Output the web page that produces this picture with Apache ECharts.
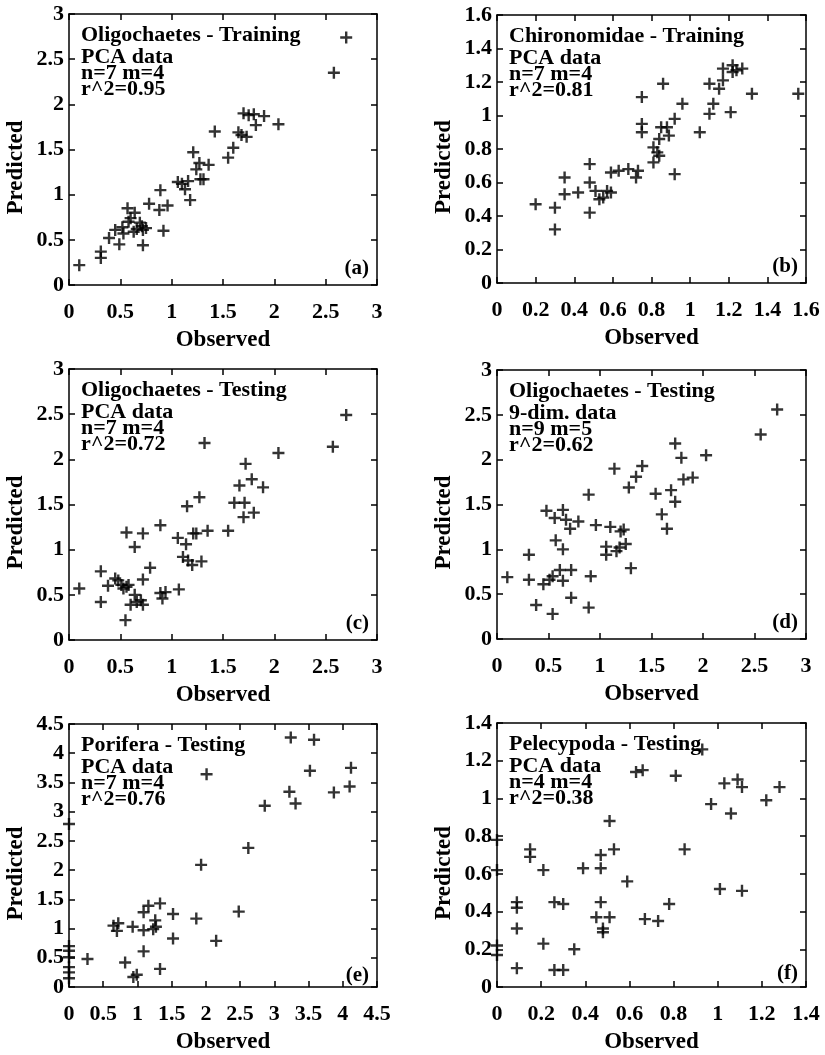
<!DOCTYPE html>
<html>
<head>
<meta charset="utf-8">
<script src="https://cdn.jsdelivr.net/npm/echarts@6/dist/echarts.min.js"></script>
<style>
  html, body { margin: 0; padding: 0; background: #fff; }
  #chart { width: 825px; height: 1055px; }
</style>
</head>
<body>
<div id="chart"></div>
<script>
// observed / predicted pairs
var oligoTrainPca = [[0.10,0.22],[0.31,0.37],[0.31,0.30],[0.39,0.52],[0.45,0.61],[0.49,0.45],[0.52,0.64],[0.53,0.57],[0.57,0.85],[0.58,0.70],[0.60,0.74],[0.64,0.80],[0.63,0.59],[0.66,0.62],[0.69,0.69],[0.71,0.65],[0.72,0.61],[0.72,0.44],[0.75,0.63],[0.78,0.90],[0.88,0.83],[0.89,1.05],[0.92,0.60],[0.96,0.88],[1.06,1.14],[1.10,1.12],[1.13,1.06],[1.16,1.15],[1.18,0.94],[1.21,1.47],[1.24,1.28],[1.27,1.35],[1.28,1.17],[1.31,1.17],[1.36,1.33],[1.42,1.70],[1.55,1.41],[1.60,1.52],[1.65,1.69],[1.68,1.66],[1.73,1.64],[1.70,1.90],[1.75,1.88],[1.80,1.89],[1.82,1.77],[1.90,1.87],[2.04,1.78],[2.58,2.35],[2.70,2.74]];
var chiroTrainPca = [[0.20,0.47],[0.30,0.45],[0.30,0.32],[0.35,0.63],[0.35,0.53],[0.42,0.54],[0.48,0.71],[0.48,0.60],[0.48,0.42],[0.51,0.55],[0.53,0.50],[0.55,0.51],[0.57,0.55],[0.59,0.54],[0.59,0.66],[0.63,0.67],[0.68,0.68],[0.72,0.63],[0.73,0.67],[0.75,1.11],[0.75,0.95],[0.75,0.90],[0.81,0.81],[0.81,0.72],[0.83,0.78],[0.84,0.86],[0.84,0.76],[0.86,1.19],[0.85,0.93],[0.88,0.93],[0.89,0.88],[0.92,0.98],[0.92,0.65],[0.96,1.07],[1.05,0.90],[1.10,1.01],[1.10,1.19],[1.12,1.07],[1.15,1.16],[1.17,1.21],[1.17,1.28],[1.21,1.02],[1.22,1.30],[1.22,1.26],[1.24,1.27],[1.27,1.28],[1.32,1.13],[1.56,1.13]];
var oligoTestPca = [[0.10,0.57],[0.31,0.76],[0.31,0.42],[0.38,0.60],[0.45,0.68],[0.48,0.66],[0.51,0.61],[0.53,0.57],[0.55,0.22],[0.56,1.19],[0.56,0.59],[0.58,0.61],[0.60,0.39],[0.64,1.03],[0.64,0.50],[0.66,0.42],[0.72,1.18],[0.72,0.67],[0.70,0.44],[0.72,0.39],[0.79,0.80],[0.89,1.27],[0.89,0.52],[0.91,0.46],[0.94,0.53],[1.07,0.56],[1.06,1.13],[1.11,0.92],[1.14,1.06],[1.15,1.48],[1.16,0.88],[1.20,0.83],[1.21,1.18],[1.24,1.18],[1.27,1.58],[1.29,0.87],[1.35,1.21],[1.32,2.18],[1.55,1.21],[1.61,1.52],[1.66,1.71],[1.70,1.36],[1.72,1.95],[1.71,1.52],[1.78,1.78],[1.80,1.41],[1.89,1.69],[2.04,2.07],[2.57,2.14],[2.70,2.49]];
var oligoTest9dim = [[0.10,0.69],[0.31,0.94],[0.31,0.66],[0.38,0.38],[0.45,0.61],[0.48,1.43],[0.51,0.66],[0.54,0.70],[0.54,0.28],[0.56,1.35],[0.57,1.10],[0.61,0.77],[0.64,1.44],[0.64,1.00],[0.64,0.65],[0.67,1.33],[0.71,1.23],[0.72,0.77],[0.72,0.46],[0.79,1.31],[0.89,1.61],[0.89,0.35],[0.91,0.70],[0.96,1.27],[1.06,1.03],[1.06,0.94],[1.10,1.25],[1.14,1.90],[1.16,0.98],[1.19,1.02],[1.20,1.20],[1.23,1.22],[1.25,1.06],[1.28,1.69],[1.30,0.79],[1.35,1.81],[1.41,1.93],[1.54,1.62],[1.60,1.39],[1.65,1.23],[1.69,1.66],[1.73,2.18],[1.73,1.53],[1.79,2.02],[1.81,1.78],[1.90,1.80],[2.03,2.05],[2.56,2.28],[2.72,2.56]];
var poriTestPca = [[0,0.70],[0,0.62],[0,0.51],[0,0.34],[0,0.25],[0,0.15],[0,2.79],[0.27,0.48],[0.65,1.05],[0.70,0.96],[0.72,1.09],[0.82,0.42],[0.93,1.03],[0.94,0.17],[0.99,0.21],[1.09,1.28],[1.09,0.97],[1.09,0.61],[1.16,1.39],[1.23,0.99],[1.26,1.14],[1.27,1.03],[1.33,1.43],[1.33,0.31],[1.52,1.25],[1.52,0.83],[1.86,1.17],[1.93,2.09],[2.01,3.64],[2.15,0.79],[2.48,1.29],[2.62,2.38],[2.86,3.10],[3.22,3.34],[3.24,4.27],[3.31,3.14],[3.52,3.70],[3.58,4.23],[3.87,3.33],[4.10,3.43],[4.12,3.75]];
var peleTestPca = [[0,0.78],[0,0.62],[0,0.22],[0,0.17],[0.09,0.45],[0.09,0.42],[0.09,0.31],[0.09,0.10],[0.15,0.73],[0.15,0.69],[0.21,0.62],[0.21,0.23],[0.26,0.45],[0.26,0.09],[0.30,0.44],[0.30,0.09],[0.35,0.20],[0.39,0.63],[0.45,0.37],[0.47,0.70],[0.47,0.63],[0.47,0.45],[0.48,0.31],[0.48,0.29],[0.51,0.88],[0.51,0.37],[0.53,0.73],[0.59,0.56],[0.63,1.14],[0.66,1.15],[0.67,0.36],[0.73,0.35],[0.78,0.44],[0.81,1.12],[0.85,0.73],[0.93,1.26],[0.97,0.97],[1.01,0.52],[1.03,1.08],[1.06,0.92],[1.09,1.10],[1.11,1.06],[1.11,0.51],[1.22,0.99],[1.28,1.06]];

// tick labels
var ticks0to3 = [0, 0.5, 1, 1.5, 2, 2.5, 3];
var ticks0to16 = [0, 0.2, 0.4, 0.6, 0.8, 1, 1.2, 1.4, 1.6];
var ticks0to45 = [0, 0.5, 1, 1.5, 2, 2.5, 3, 3.5, 4, 4.5];
var ticks0to14 = [0, 0.2, 0.4, 0.6, 0.8, 1, 1.2, 1.4];

// panel texts
var headings = ['Oligochaetes - Training', 'Chironomidae - Training', 'Oligochaetes - Testing',
                'Oligochaetes - Testing', 'Porifera - Testing', 'Pelecypoda - Testing'];
var notes = ['PCA data\nn=7 m=4\nr^2=0.95', 'PCA data\nn=7 m=4\nr^2=0.81', 'PCA data\nn=7 m=4\nr^2=0.72',
             '9-dim. data\nn=9 m=5\nr^2=0.62', 'PCA data\nn=7 m=4\nr^2=0.76', 'PCA data\nn=4 m=4\nr^2=0.38'];
var tags = ['(a)', '(b)', '(c)', '(d)', '(e)', '(f)'];

var font = "'Liberation Serif', 'Times New Roman', serif";
// filled "+" marker
var cross = 'path://M4,0H6V10H4Z M0,4H10V6H0Z';

var panels = [
  { data: oligoTrainPca, ticks: ticks0to3,  left: 69,  top: 14,  w: 308, h: 271 },
  { data: chiroTrainPca, ticks: ticks0to16, left: 497, top: 15,  w: 309, h: 268 },
  { data: oligoTestPca,  ticks: ticks0to3,  left: 69,  top: 369, w: 308, h: 271 },
  { data: oligoTest9dim, ticks: ticks0to3,  left: 497, top: 370, w: 309, h: 269 },
  { data: poriTestPca,   ticks: ticks0to45, left: 69,  top: 724, w: 308, h: 268 },
  { data: peleTestPca,   ticks: ticks0to14, left: 497, top: 723, w: 309, h: 267 }
];

function makeAxis(ticks, gi, pos, main, name) {
  var ax = {
    type: 'value', gridIndex: gi, position: pos,
    min: ticks[0], max: ticks[ticks.length - 1], interval: ticks[1] - ticks[0],
    axisLine: { show: true, onZero: false, lineStyle: { color: '#000', width: 1.5 } },
    axisTick: { show: true, inside: true, length: 6, lineStyle: { color: '#000', width: 1.5 } },
    axisLabel: { show: main, color: '#000', fontFamily: font, fontWeight: 'bold', fontSize: 22,
                 margin: (pos === 'bottom') ? 16 : 5,
                 formatter: function (v) { return String(+v.toFixed(2)); } },
    splitLine: { show: false }
  };
  if (name) {
    ax.name = name;
    ax.nameLocation = 'middle';
    ax.nameTextStyle = { color: '#000', fontFamily: font, fontWeight: 'bold', fontSize: 23 };
    if (pos === 'left') {
      ax.nameGap = 41;
      ax.nameTextStyle.padding = [0, 36, 0, 0];
    } else {
      ax.nameGap = 44;
    }
  }
  return ax;
}

var grid = [], xAxis = [], yAxis = [], series = [], title = [];
panels.forEach(function (p, i) {
  grid.push({ left: p.left, top: p.top, width: p.w, height: p.h, containLabel: false });
  xAxis.push(makeAxis(p.ticks, i, 'bottom', true, 'Observed'));
  xAxis.push(makeAxis(p.ticks, i, 'top', false));
  yAxis.push(makeAxis(p.ticks, i, 'left', true, 'Predicted'));
  yAxis.push(makeAxis(p.ticks, i, 'right', false));
  series.push({
    type: 'scatter', xAxisIndex: 2 * i, yAxisIndex: 2 * i,
    data: p.data, symbol: cross, symbolSize: 12,
    itemStyle: { color: '#000' }, silent: true
  });
  title.push({
    text: headings[i], subtext: notes[i],
    left: p.left + 12, top: p.top + 11, padding: 0, itemGap: 2,
    textStyle: { color: '#000', fontFamily: font, fontWeight: 'bold', fontSize: 22, lineHeight: 21 },
    subtextStyle: { color: '#000', fontFamily: font, fontWeight: 'bold', fontSize: 22, lineHeight: 16 }
  });
  title.push({
    text: tags[i], right: 825 - (p.left + p.w - 8), top: p.top + p.h - 27, padding: 0,
    textStyle: { color: '#000', fontFamily: font, fontWeight: 'bold', fontSize: 21, lineHeight: 21 }
  });
});

var myChart = echarts.init(document.getElementById('chart'));
myChart.setOption({
  animation: false,
  backgroundColor: '#fff',
  title: title,
  grid: grid,
  xAxis: xAxis,
  yAxis: yAxis,
  series: series
});
</script>
</body>
</html>
